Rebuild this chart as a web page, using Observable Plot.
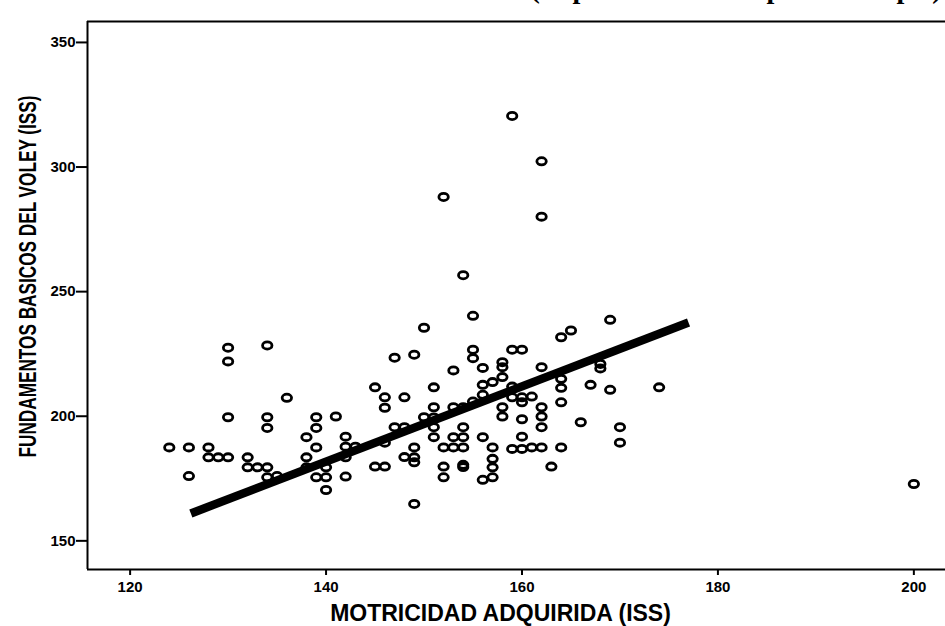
<!DOCTYPE html>
<html>
<head>
<meta charset="utf-8">
<script src="https://cdn.jsdelivr.net/npm/d3@7"></script>
<script src="https://cdn.jsdelivr.net/npm/@observablehq/plot@0.6"></script>
<style>
  html, body { margin: 0; padding: 0; background: white; overflow: hidden; }
  svg [aria-label="y-axis tick"], svg [aria-label="x-axis tick"] { stroke-width: 2px; }
  svg [aria-label="y-axis"] line, svg [aria-label="x-axis"] line { stroke-width: 2px; }
</style>
</head>
<body>
<div id="chart"></div>
<script>
// ---- data ----
const titleText = "(Representación de puntos simple)";
const xLabel = "MOTRICIDAD ADQUIRIDA (ISS)";
const yLabel = "FUNDAMENTOS BASICOS DEL VOLEY (ISS)";
const xTicks = [120, 140, 160, 180, 200];
const yTicks = [150, 200, 250, 300, 350];
const xDomain = [115.65, 203.23];
const yDomain = [138.5, 358.4];

const motricidad = [
  124,126,126,128,128,129,130,130,130,130,
  132,132,133,134,134,135,134,134,134,136,
  138,138,139,139,139,139,140,140,140,141,
  142,142,142,145,146,146,145,146,146,147,
  147,148,148,148,149,149,149,149,149,150,
  150,151,151,151,151,151,152,152,152,152,
  153,153,153,153,154,154,154,154,154,154,
  154,155,155,155,155,156,156,156,156,156,
  157,157,157,157,157,158,158,158,158,158,
  159,159,159,159,159,160,160,160,160,160,
  160,161,161,162,162,162,162,162,162,162,
  163,164,164,164,164,164,165,166,167,168,
  168,169,169,170,170,174,200,138,142,143
];
const fundamentos = [
  187.5,187.5,176,187.5,183.5,183.5,183.5,227.5,222,199.6,
  183.5,179.5,179.5,179.5,175.5,176,228.4,199.6,195.3,207.4,
  191.6,183.5,199.6,195.3,187.5,175.5,179.5,175.5,170.4,199.9,
  191.8,187.8,175.8,211.6,207.6,203.4,179.8,179.8,189.4,223.5,
  195.6,207.6,195.6,183.6,224.7,187.5,183.5,181.5,164.8,235.5,
  199.6,211.6,203.6,199.5,195.6,191.6,187.5,179.8,175.5,288,
  218.4,203.6,191.6,187.5,203.6,195.6,191.6,187.5,180.5,179.6,
  256.6,205.9,240.3,226.7,223.3,219.4,212.6,208.6,191.6,174.5,
  213.7,187.5,182.9,179.5,175.5,221.7,219.7,215.7,203.6,199.9,
  226.7,320.5,211.9,207.6,186.9,207.6,205.6,198.8,191.8,186.9,
  226.7,207.9,187.5,219.7,203.6,199.9,195.6,187.5,302.3,280.1,
  179.8,231.7,215,211.4,205.6,187.5,234.4,197.6,212.6,221,
  219.2,238.7,210.6,195.6,189.4,211.6,172.8,179.5,183.5,187.8
];

// fitted line (as drawn in the reference)
const fitX = [126.2, 177.0];
const fitY = [161.0, 237.6];

// ---- build ----
const points = motricidad.map((x, i) => ({x, y: fundamentos[i]}));
const fit = fitX.map((x, i) => ({x, y: fitY[i]}));

const ellipse = {
  draw(ctx) {
    const rx = 4.7, ry = 3.6, k = 0.5523;
    ctx.moveTo(rx, 0);
    ctx.bezierCurveTo(rx, ry * k, rx * k, ry, 0, ry);
    ctx.bezierCurveTo(-rx * k, ry, -rx, ry * k, -rx, 0);
    ctx.bezierCurveTo(-rx, -ry * k, -rx * k, -ry, 0, -ry);
    ctx.bezierCurveTo(rx * k, -ry, rx, -ry * k, rx, 0);
    ctx.closePath();
  }
};

const chart = Plot.plot({
  width: 945,
  height: 626,
  marginLeft: 87,
  marginRight: 0,
  marginTop: 21,
  marginBottom: 57,
  style: {
    fontFamily: "'Liberation Sans', Arial, sans-serif",
    fontWeight: "bold",
    fontSize: "15px",
    background: "white",
    color: "black"
  },
  x: {domain: xDomain, ticks: xTicks, tickSize: 6, tickPadding: 6, label: null, tickFormat: d => String(d)},
  y: {domain: yDomain, ticks: yTicks, tickSize: 11, tickPadding: 1, label: null, tickFormat: d => String(d)},
  marks: [
    Plot.ruleX([xDomain[0]], {stroke: "black", strokeWidth: 2}),
    Plot.ruleY([yDomain[0]], {stroke: "black", strokeWidth: 2}),
    Plot.ruleY([yDomain[1]], {stroke: "black", strokeWidth: 2}),
    Plot.dot(points, {x: "x", y: "y", symbol: ellipse, r: 4, stroke: "black", strokeWidth: 2.8, fill: "none"}),
    Plot.line(fit, {x: "x", y: "y", stroke: "black", strokeWidth: 8.5, strokeLinecap: "butt"}),
    Plot.text([yLabel], {frameAnchor: "left", dx: -59, dy: -19, rotate: -90, textAnchor: "middle", lineAnchor: "middle", fontSize: 23, fontWeight: "bold"}),
    Plot.text([xLabel], {frameAnchor: "bottom", dy: 44, dx: -16, textAnchor: "middle", lineAnchor: "middle", fontSize: 23, fontWeight: "bold"}),
    Plot.text([titleText], {frameAnchor: "top-right", dy: -32, dx: -4, textAnchor: "end", lineAnchor: "middle",
      fontFamily: "'Liberation Serif', 'Times New Roman', serif", fontWeight: "bold", fontSize: 28})
  ]
});
// condense the vertical axis title to the length it has in the reference
d3.select(chart).selectAll("text")
  .filter(function() { return this.textContent === yLabel; })
  .attr("textLength", 362)
  .attr("lengthAdjust", "spacingAndGlyphs");
document.getElementById("chart").appendChild(chart);
</script>
</body>
</html>
